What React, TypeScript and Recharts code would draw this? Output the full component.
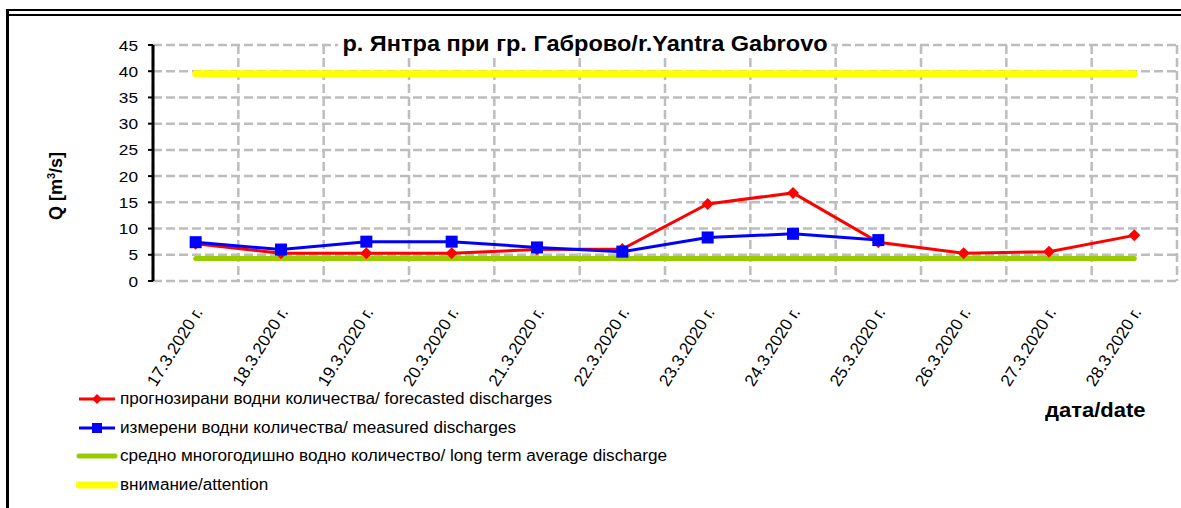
import React from 'react';
import { LineChart, Line, XAxis, YAxis, CartesianGrid } from 'recharts';

const dates = [
  '17.3.2020 г.', '18.3.2020 г.', '19.3.2020 г.', '20.3.2020 г.', '21.3.2020 г.', '22.3.2020 г.',
  '23.3.2020 г.', '24.3.2020 г.', '25.3.2020 г.', '26.3.2020 г.', '27.3.2020 г.', '28.3.2020 г.',
];
const forecast = [7.1, 5.3, 5.3, 5.3, 6.0, 6.1, 14.7, 16.8, 7.4, 5.3, 5.6, 8.7];
const measured = [7.4, 6.0, 7.5, 7.5, 6.4, 5.6, 8.3, 9.0, 7.8, null, null, null];
const longTermAverage = [4.3, 4.3, 4.3, 4.3, 4.3, 4.3, 4.3, 4.3, 4.3, 4.3, 4.3, 4.3];
const attention = [39.5, 39.5, 39.5, 39.5, 39.5, 39.5, 39.5, 39.5, 39.5, 39.5, 39.5, 39.5];
const yTicks = [0, 5, 10, 15, 20, 25, 30, 35, 40, 45];

const legendItems = [
  { label: 'прогнозирани водни количества/ forecasted discharges', color: '#ff0000', marker: 'diamond', width: 3 },
  { label: 'измерени водни количества/ measured discharges', color: '#0000ff', marker: 'square', width: 3 },
  { label: 'средно многогодишно водно количество/ long term average discharge', color: '#99cc00', marker: 'none', width: 5 },
  { label: 'внимание/attention', color: '#ffff00', marker: 'none', width: 7 },
];

const data = dates.map((d, i) => ({
  x: i,
  date: d,
  forecast: forecast[i],
  measured: measured[i],
  avg: longTermAverage[i],
  attention: attention[i],
}));
const boundaryTicks = dates.map((_, i) => i - 0.5).concat([dates.length - 0.5]);
const centerTicks = dates.map((_, i) => i);

const FONT = '"Liberation Sans", Arial, sans-serif';
const STRETCH = 1.15;

const Diamond = (props: any) => {
  const { cx, cy, index } = props;
  if (cx == null || cy == null) return <g key={`d${index}`} />;
  const r = 6;
  return (
    <polygon
      key={`d${index}`}
      points={`${cx},${cy - r} ${cx + r},${cy} ${cx},${cy + r} ${cx - r},${cy}`}
      fill="#ff0000"
    />
  );
};

const Square = (props: any) => {
  const { cx, cy, index } = props;
  if (cx == null || cy == null) return <g key={`s${index}`} />;
  const r = 6;
  return <rect key={`s${index}`} x={cx - r} y={cy - r} width={2 * r} height={2 * r} fill="#0000ff" />;
};

const DateTick = (props: any) => {
  const { x, y, payload } = props;
  const tx = x + 3;
  const ty = y + 20;
  return (
    <text
      x={tx}
      y={ty}
      transform={`rotate(-58 ${tx} ${ty})`}
      textAnchor="end"
      fontSize={17}
      fill="#000"
      fontFamily={FONT}
      dominantBaseline="central"
    >
      {dates[payload.value]}
    </text>
  );
};

const ValueTick = (props: any) => {
  const { x, y, payload } = props;
  return (
    <text
      x={x}
      y={y}
      transform={`translate(${x} ${y}) scale(${STRETCH} 1) translate(${-x} ${-y})`}
      textAnchor="end"
      fontSize={15}
      fill="#000"
      fontFamily={FONT}
      dominantBaseline="central"
    >
      {payload.value}
    </text>
  );
};

const EmptyTick = () => <g />;

const LegendIcon = ({ color, marker, width }: any) => (
  <svg width={42} height={14} style={{ display: 'block' }}>
    <line x1={3} y1={7} x2={39} y2={7} stroke={color} strokeWidth={width} strokeLinecap={marker === 'none' ? 'round' : 'butt'} />
    {marker === 'diamond' && <polygon points="21,2 26,7 21,12 16,7" fill={color} />}
    {marker === 'square' && <rect x={16} y={2} width={10} height={10} fill={color} />}
  </svg>
);

export default function App() {
  return (
    <div style={{ position: 'fixed', left: 0, top: 0, width: 1181, height: 508, background: '#fff', fontFamily: FONT, overflow: 'hidden' }}>
      {/* frame */}
      <div style={{ position: 'absolute', left: 6, top: 9, width: 1175, height: 2, background: '#000' }} />
      <div style={{ position: 'absolute', left: 6, top: 14, width: 1175, height: 2, background: '#000' }} />
      <div style={{ position: 'absolute', left: 6, top: 9, width: 3, height: 499, background: '#000' }} />

      <div style={{ position: 'absolute', left: 0, top: 0 }}>
        <LineChart width={1181} height={400} data={data} margin={{ top: 45, right: 4, left: 0, bottom: 0 }}>
          <CartesianGrid
            xAxisId="b"
            stroke="#bdbdbd"
            strokeWidth={2.5}
            strokeDasharray="9 4"
          />
          <XAxis
            xAxisId="b"
            dataKey="x"
            type="number"
            domain={[-0.5, dates.length - 0.5]}
            ticks={boundaryTicks}
            tick={<EmptyTick />}
            tickLine={{ stroke: '#000', strokeWidth: 2 }}
            tickSize={5}
            axisLine={{ stroke: '#000', strokeWidth: 3 }}
            height={0}
            interval={0}
          />
          <XAxis
            xAxisId="c"
            dataKey="x"
            type="number"
            domain={[-0.5, dates.length - 0.5]}
            ticks={centerTicks}
            tick={<DateTick />}
            tickLine={false}
            axisLine={false}
            height={119}
            interval={0}
          />
          <YAxis
            domain={[0, 45]}
            ticks={yTicks}
            width={153}
            interval={0}
            tick={<ValueTick />}
            tickLine={{ stroke: '#000', strokeWidth: 2 }}
            tickSize={5}
            tickMargin={10}
            axisLine={{ stroke: '#000', strokeWidth: 3 }}
          />
          <Line xAxisId="c" dataKey="attention" stroke="#ffff00" strokeWidth={7} strokeLinecap="round" dot={false} isAnimationActive={false} />
          <Line xAxisId="c" dataKey="avg" stroke="#99cc00" strokeWidth={5} strokeLinecap="round" dot={false} isAnimationActive={false} />
          <Line xAxisId="c" dataKey="forecast" stroke="#ff0000" strokeWidth={3} dot={<Diamond />} isAnimationActive={false} />
          <Line xAxisId="c" dataKey="measured" stroke="#0000ff" strokeWidth={3} dot={<Square />} isAnimationActive={false} />
        </LineChart>
      </div>

      {/* title */}
      <div style={{ position: 'absolute', left: 585, top: 31, transform: 'translateX(-50%) scaleX(1.07)', background: '#fff', padding: '0 4px', fontWeight: 'bold', fontSize: 22, whiteSpace: 'nowrap', lineHeight: '26px' }}>
        р. Янтра при гр. Габрово/r.Yantra Gabrovo
      </div>

      {/* y-axis title */}
      <div style={{ position: 'absolute', left: 56, top: 186, transform: 'translate(-50%, -50%) rotate(-90deg)', fontWeight: 'bold', fontSize: 18, whiteSpace: 'nowrap' }}>
        Q [m<sup style={{ fontSize: 11 }}>3</sup>/s]
      </div>

      {/* x-axis title */}
      <div style={{ position: 'absolute', left: 1045, top: 398, transformOrigin: 'left center', transform: 'scaleX(1.1)', fontWeight: 'bold', fontSize: 20, whiteSpace: 'nowrap', lineHeight: '24px' }}>
        дата/date
      </div>

      {/* legend */}
      <div style={{ position: 'absolute', left: 76, top: 385 }}>
        {legendItems.map((it) => (
          <div key={it.label} style={{ display: 'flex', alignItems: 'center', height: 28.5 }}>
            <LegendIcon color={it.color} marker={it.marker} width={it.width} />
            <span style={{ fontSize: 16, marginLeft: 2, whiteSpace: 'nowrap', display: 'inline-block', transformOrigin: 'left center', transform: 'scaleX(1.07)' }}>{it.label}</span>
          </div>
        ))}
      </div>
    </div>
  );
}
